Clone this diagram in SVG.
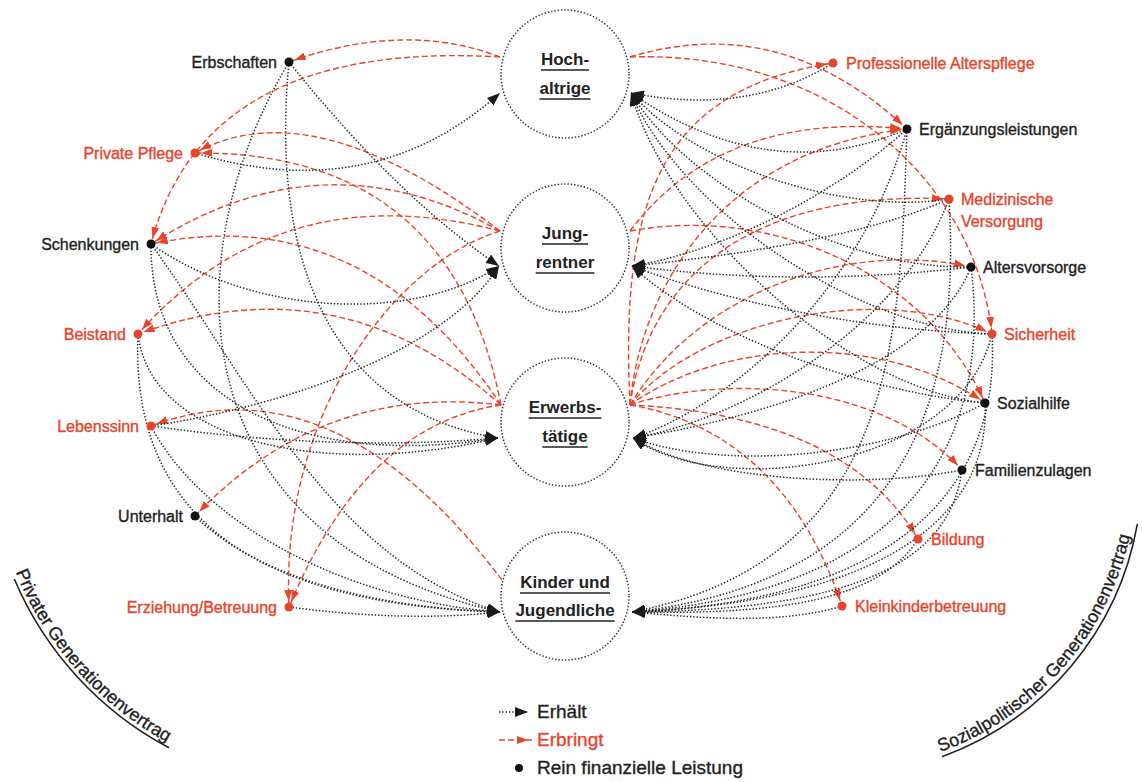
<svg xmlns="http://www.w3.org/2000/svg" width="1142" height="782" viewBox="0 0 1142 782">
<style>
.blk{fill:none;stroke:#262626;stroke-width:1.5;stroke-dasharray:1.4 1.9;marker-end:url(#ab)}
.red{fill:none;stroke:#e8442b;stroke-width:1.4;stroke-dasharray:6 3;marker-end:url(#ar)}
.circ{fill:#fff;stroke:#333;stroke-width:1.5;stroke-dasharray:1.4 1.9}
.lbl{font-family:"Liberation Sans",Arial,sans-serif;font-size:16px;stroke-width:0.35}
.k{fill:#222;stroke:#222}
.r{fill:#e8432c;stroke:#e8432c}
.ctr{font-family:"Liberation Sans",Arial,sans-serif;font-size:17px;font-weight:bold;text-anchor:middle;fill:#222}
.ul{stroke:#222;stroke-width:1.6}
.end{text-anchor:end}
.big{font-family:"Liberation Sans",Arial,sans-serif;font-size:18px;fill:#222;stroke:#222;stroke-width:0.35}
.leg{font-family:"Liberation Sans",Arial,sans-serif;font-size:19px;stroke-width:0.35}
</style>
<defs>
<marker id="ab" viewBox="0 0 13 10" refX="13" refY="5" markerWidth="13" markerHeight="10" markerUnits="userSpaceOnUse" orient="auto"><path d="M0,0 L13,5 L0,10 z" fill="#1a1a1a"/></marker>
<marker id="ar" viewBox="0 0 11 8" refX="17" refY="4" markerWidth="11" markerHeight="8" markerUnits="userSpaceOnUse" orient="auto"><path d="M0,0 L11,4 L0,8 z" fill="#e8442b"/></marker>
<path id="arcL" d="M15.7,572 A339,339 0 0 0 186.7,752.2"/>
<path id="arcR" d="M940.3,752 A299,299 0 0 0 1134.1,512.6"/>
</defs>
<rect width="1142" height="782" fill="#fff"/>
<g id="connectors">
<path class="red" d="M500,57 Q405.5,20.5 289,62"/>
<path class="red" d="M500,57 Q204.5,39.5 151,244"/>
<path class="red" d="M500,231 Q312,88 195,153"/>
<path class="red" d="M500,231 Q324.5,132.5 151,244"/>
<path class="red" d="M500,231 Q280,173.5 138,334"/>
<path class="red" d="M500,231 C390,265 280,420 289,607"/>
<path class="red" d="M501,405 Q451.5,151 195,153"/>
<path class="red" d="M501,405 Q364,199.5 151,244"/>
<path class="red" d="M501,405 Q339.5,260.5 138,334"/>
<path class="red" d="M501,405 Q321.5,383 195,516"/>
<path class="red" d="M501,405 Q365,424.5 289,607"/>
<path class="red" d="M502,580 Q333.5,357.5 151,426"/>
<path class="red" d="M630,57 Q781.5,11 907,129"/>
<path class="red" d="M630,57 C830,50 975,180 992,334"/>
<path class="red" d="M630,231 Q721.5,110 907,129"/>
<path class="red" d="M630,231 C770,205 925,270 985,403"/>
<path class="red" d="M630,405 C620,200 660,90 833,63"/>
<path class="red" d="M630,405 C640,290 720,150 907,129"/>
<path class="red" d="M630,405 C650,270 760,190 949,199"/>
<path class="red" d="M630,405 C700,290 850,240 971,267"/>
<path class="red" d="M630,405 C700,320 880,280 992,334"/>
<path class="red" d="M630,405 C720,340 880,330 985,403"/>
<path class="red" d="M630,405 C720,375 880,380 962,470"/>
<path class="red" d="M630,405 C740,410 860,440 918,539"/>
<path class="red" d="M630,405 C720,420 800,480 842,606"/>
<path class="blk" d="M195,153 Q372.5,207 500,93"/>
<path class="blk" d="M289,62 Q396,196 499,266"/>
<path class="blk" d="M289,62 C270,260 330,410 498,438"/>
<path class="blk" d="M289,62 C170,260 180,540 500,612"/>
<path class="blk" d="M151,244 C260,320 420,320 499,266"/>
<path class="blk" d="M151,244 C150,400 300,470 498,438"/>
<path class="blk" d="M151,244 C250,380 330,560 500,612"/>
<path class="blk" d="M138,334 C150,440 320,480 498,438"/>
<path class="blk" d="M138,334 C130,520 260,605 500,612"/>
<path class="blk" d="M151,426 C260,410 440,360 499,266"/>
<path class="blk" d="M151,426 Q335.5,452 498,438"/>
<path class="blk" d="M151,426 C200,520 340,600 500,612"/>
<path class="blk" d="M195,516 C260,580 380,608 500,612"/>
<path class="blk" d="M289,607 Q405.5,622.5 500,612"/>
<path class="blk" d="M833,63 Q748,116 631,93"/>
<path class="blk" d="M907,129 Q771,189 631,93"/>
<path class="blk" d="M949,199 C850,215 700,170 631,93"/>
<path class="blk" d="M971,267 C850,270 690,190 631,93"/>
<path class="blk" d="M992,334 C860,330 680,210 631,93"/>
<path class="blk" d="M985,403 C850,390 670,230 631,93"/>
<path class="blk" d="M907,129 C840,190 730,250 632,266"/>
<path class="blk" d="M949,199 C870,235 740,255 632,266"/>
<path class="blk" d="M971,267 Q798.5,287.5 632,266"/>
<path class="blk" d="M992,334 C860,330 720,300 632,266"/>
<path class="blk" d="M985,403 C850,390 700,330 632,266"/>
<path class="blk" d="M907,129 C860,300 720,410 633,438"/>
<path class="blk" d="M949,199 C900,330 740,420 633,438"/>
<path class="blk" d="M971,267 C930,370 750,420 633,438"/>
<path class="blk" d="M992,334 C960,470 720,500 633,438"/>
<path class="blk" d="M985,403 C880,460 720,470 633,438"/>
<path class="blk" d="M962,470 C860,490 700,480 633,438"/>
<path class="blk" d="M907,129 C900,330 900,560 632,612"/>
<path class="blk" d="M949,199 C960,380 920,580 632,612"/>
<path class="blk" d="M971,267 C990,420 930,590 632,612"/>
<path class="blk" d="M992,334 C1000,470 920,600 632,612"/>
<path class="blk" d="M985,403 C990,500 910,600 632,612"/>
<path class="blk" d="M962,470 C950,560 860,610 632,612"/>
<path class="blk" d="M918,539 C880,600 780,615 632,612"/>
<path class="blk" d="M842,606 C780,625 700,618 632,612"/>
</g>
<g id="gen-hochaltrige">
<circle class="circ" cx="565" cy="74" r="64"/>
<text class="ctr" x="565" y="65">Hoch-</text>
<text class="ctr" x="565" y="94">altrige</text>
<line class="ul" x1="541" y1="70" x2="589" y2="70"/>
<line class="ul" x1="539.5" y1="99" x2="590.5" y2="99"/>
</g>
<g id="gen-jungrentner">
<circle class="circ" cx="565" cy="248" r="64"/>
<text class="ctr" x="565" y="239">Jung-</text>
<text class="ctr" x="565" y="268">rentner</text>
<line class="ul" x1="542" y1="244" x2="588" y2="244"/>
<line class="ul" x1="535.7" y1="273" x2="594.3" y2="273"/>
</g>
<g id="gen-erwerbstaetige">
<circle class="circ" cx="565" cy="422" r="64"/>
<text class="ctr" x="565" y="413">Erwerbs-</text>
<text class="ctr" x="565" y="442">tätige</text>
<line class="ul" x1="528.6" y1="418" x2="601.4" y2="418"/>
<line class="ul" x1="542.3" y1="447" x2="587.7" y2="447"/>
</g>
<g id="gen-kinder">
<circle class="circ" cx="565" cy="596" r="64"/>
<text class="ctr" x="565" y="588">Kinder und</text>
<text class="ctr" x="565" y="616">Jugendliche</text>
<line class="ul" x1="520" y1="593" x2="610" y2="593"/>
<line class="ul" x1="515.4" y1="621" x2="614.6" y2="621"/>
</g>
<g id="n-erbschaften"><circle cx="289" cy="62" r="4.5" fill="#111"/><text class="lbl k end" x="277" y="68">Erbschaften</text></g>
<g id="n-private-pflege"><circle cx="195" cy="153" r="4.5" fill="#e8432c"/><text class="lbl r end" x="183" y="159">Private Pflege</text></g>
<g id="n-schenkungen"><circle cx="151" cy="244" r="4.5" fill="#111"/><text class="lbl k end" x="139" y="250">Schenkungen</text></g>
<g id="n-beistand"><circle cx="138" cy="334" r="4.5" fill="#e8432c"/><text class="lbl r end" x="126" y="340">Beistand</text></g>
<g id="n-lebenssinn"><circle cx="151" cy="426" r="4.5" fill="#e8432c"/><text class="lbl r end" x="139" y="432">Lebenssinn</text></g>
<g id="n-unterhalt"><circle cx="195" cy="516" r="4.5" fill="#111"/><text class="lbl k end" x="183" y="522">Unterhalt</text></g>
<g id="n-erziehung"><circle cx="289" cy="607" r="4.5" fill="#e8432c"/><text class="lbl r end" x="277" y="613">Erziehung/Betreuung</text></g>
<g id="n-prof-alterspflege"><circle cx="833" cy="63" r="4.5" fill="#e8432c"/><text class="lbl r" x="846" y="69">Professionelle Alterspflege</text></g>
<g id="n-ergaenzungsleistungen"><circle cx="907" cy="129" r="4.5" fill="#111"/><text class="lbl k" x="919" y="135">Ergänzungsleistungen</text></g>
<g id="n-medizinische-versorgung"><circle cx="949" cy="199" r="4.5" fill="#e8432c"/><text class="lbl r" x="961" y="205">Medizinische</text><text class="lbl r" x="961" y="227">Versorgung</text></g>
<g id="n-altersvorsorge"><circle cx="971" cy="267" r="4.5" fill="#111"/><text class="lbl k" x="983" y="273">Altersvorsorge</text></g>
<g id="n-sicherheit"><circle cx="992" cy="334" r="4.5" fill="#e8432c"/><text class="lbl r" x="1004" y="340">Sicherheit</text></g>
<g id="n-sozialhilfe"><circle cx="985" cy="403" r="4.5" fill="#111"/><text class="lbl k" x="997" y="409">Sozialhilfe</text></g>
<g id="n-familienzulagen"><circle cx="962" cy="470" r="4.5" fill="#111"/><text class="lbl k" x="975" y="476">Familienzulagen</text></g>
<g id="n-bildung"><circle cx="918" cy="539" r="4.5" fill="#e8432c"/><text class="lbl r" x="931" y="545">Bildung</text></g>
<g id="n-kleinkinderbetreuung"><circle cx="842" cy="606" r="4.5" fill="#e8432c"/><text class="lbl r" x="855" y="612">Kleinkinderbetreuung</text></g>
<g id="title-private">
<path d="M14.3,579 A343,343 0 0 0 169,747.8" fill="none" stroke="#222" stroke-width="1.6"/>
<text class="big"><textPath href="#arcL">Privater</textPath></text>
<text class="big"><textPath href="#arcL" startOffset="67">Generationenvertrag</textPath></text>
</g>
<g id="title-sozialpolitisch">
<path d="M942,756.7 A304,304 0 0 0 1137.4,523.8" fill="none" stroke="#222" stroke-width="1.6"/>
<text class="big"><textPath href="#arcR">Sozialpolitischer</textPath></text>
<text class="big"><textPath href="#arcR" startOffset="135">Generationenvertrag</textPath></text>
</g>
<g id="legend">
<path class="blk" d="M499,712 L528,712"/>
<path class="red" d="M499,740 L534,740"/>
<circle cx="519" cy="768" r="4" fill="#111"/>
<text class="leg k" x="537" y="718">Erhält</text>
<text class="leg r" x="537" y="746">Erbringt</text>
<text class="leg k" x="537" y="774">Rein finanzielle Leistung</text>
</g>
</svg>
